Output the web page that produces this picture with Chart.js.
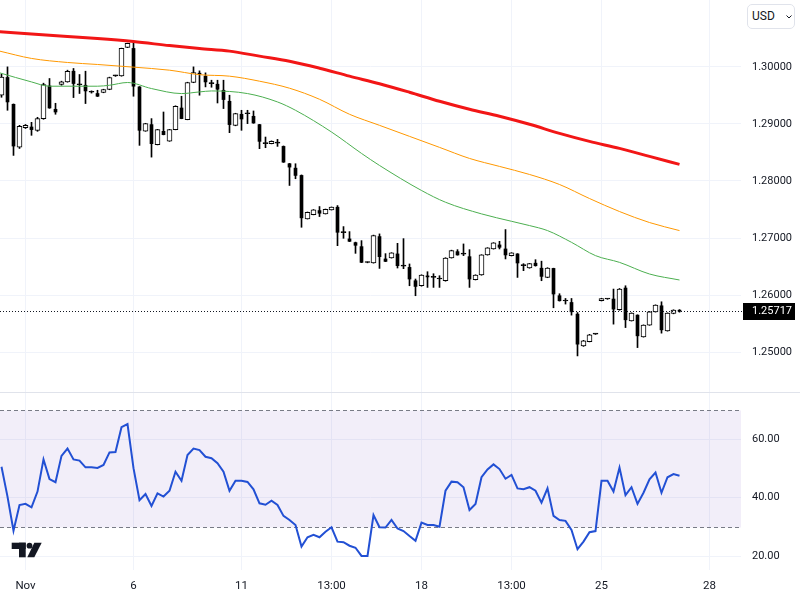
<!DOCTYPE html>
<html>
<head>
<meta charset="utf-8">
<script src="https://cdn.jsdelivr.net/npm/chart.js@4.4.1/dist/chart.umd.min.js"></script>
<style>
  html, body { margin: 0; padding: 0; background: #fff; }
  #wrap { position: relative; width: 800px; height: 600px; overflow: hidden; font-family: Roboto, sans-serif; }
  #price { position: absolute; left: 0; top: 0; }
  #rsi { position: absolute; left: 0; top: 393px; }
  #usd { position: absolute; left: 747px; top: 4px; width: 48px; height: 25px; box-sizing: border-box; background: #fff;
         border: 1px solid #e0e3eb; border-radius: 5px; font-size: 12px; line-height: 23px; color: #131722; padding-left: 4px; }
  #usd svg { position: absolute; left: 38px; top: 10px; }
</style>
</head>
<body>
<div id="wrap">
  <canvas id="price" width="800" height="393"></canvas>
  <canvas id="rsi" width="800" height="207"></canvas>
  <div id="usd">USD<svg width="6" height="4" viewBox="0 0 6 4"><polyline points="0.5,0.5 3,3 5.5,0.5" fill="none" stroke="#131722" stroke-width="1"/></svg></div>
</div>
<script>
// 4h candles, index 0 = first visible candle
const openV = [1.29503,1.29814,1.29344,1.28594,1.28935,1.28946,1.28888,1.29093,1.29666,1.29257,
  1.29691,1.29736,1.29924,1.29696,1.29678,1.29564,1.29533,1.29550,1.29603,1.29842,
  1.29842,1.30341,1.30323,1.29649,1.28875,1.28988,1.28636,1.28870,1.28699,1.28900,
  1.29279,1.29076,1.29726,1.29889,1.29837,1.29714,1.29696,1.29590,1.29397,1.28975,
  1.29169,1.29181,1.29134,1.28988,1.28654,1.28654,1.28664,1.28606,1.28302,1.28225,
  1.28097,1.27336,1.27411,1.27481,1.27424,1.27494,1.27540,1.27104,1.26984,1.26919,
  1.26849,1.26570,1.26562,1.27025,1.26633,1.26650,1.26721,1.26506,1.26485,1.26251,
  1.26163,1.26336,1.26309,1.26281,1.26251,1.26650,1.26761,1.26717,1.26673,1.26269,
  1.26351,1.26703,1.26808,1.26879,1.26808,1.26691,1.26721,1.26524,1.26474,1.26559,
  1.26471,1.26309,1.26467,1.25988,1.25900,1.25870,1.25666,1.25109,1.25184,1.25315,
  1.25900,1.25930,1.25930,1.25742,1.26123,1.25548,1.25648,1.25267,1.25473,1.25706,
  1.25812,1.25372,1.25677,1.25730];
const highV = [1.29872,1.30000,1.29350,1.28975,1.28990,1.29028,1.29116,1.29714,1.29796,1.29362,
  1.29749,1.29942,1.29972,1.29866,1.29924,1.29580,1.29590,1.29608,1.29820,1.29854,
  1.30329,1.30416,1.30439,1.29655,1.29011,1.29093,1.28905,1.29209,1.28905,1.29318,
  1.29485,1.29731,1.30000,1.29930,1.29895,1.29766,1.29766,1.29766,1.29503,1.29187,
  1.29239,1.29239,1.29227,1.28993,1.28770,1.28703,1.28729,1.28614,1.28308,1.28302,
  1.28106,1.27456,1.27499,1.27552,1.27508,1.27544,1.27569,1.27200,1.27112,1.26928,
  1.26954,1.26582,1.27051,1.27072,1.26726,1.26743,1.26907,1.26989,1.26545,1.26281,
  1.26356,1.26409,1.26374,1.26339,1.26655,1.26787,1.26796,1.26896,1.26796,1.26356,
  1.26708,1.26831,1.26919,1.26942,1.27148,1.26743,1.26726,1.26550,1.26555,1.26620,
  1.26594,1.26480,1.26471,1.26023,1.25940,1.25940,1.25694,1.25206,1.25311,1.25320,
  1.25944,1.25938,1.26105,1.26115,1.26163,1.25689,1.25654,1.25478,1.25712,1.25829,
  1.25882,1.25689,1.25742,1.25745];
const lowV = [1.29467,1.29239,1.28448,1.28570,1.28920,1.28800,1.28870,1.29081,1.29274,1.29169,
  1.29678,1.29731,1.29462,1.29533,1.29357,1.29540,1.29480,1.29546,1.29599,1.29833,
  1.29836,1.30337,1.29485,1.28624,1.28870,1.28418,1.28632,1.28808,1.28694,1.28896,
  1.29090,1.29072,1.29722,1.29503,1.29649,1.29643,1.29367,1.29269,1.28847,1.28967,
  1.28888,1.29005,1.29011,1.28566,1.28583,1.28650,1.28606,1.28325,1.27921,1.28039,
  1.27188,1.27332,1.27406,1.27376,1.27420,1.27490,1.26866,1.26995,1.26937,1.26731,
  1.26568,1.26565,1.26559,1.26467,1.26586,1.26647,1.26474,1.26462,1.26163,1.25988,
  1.26155,1.26134,1.26134,1.26134,1.26243,1.26647,1.26699,1.26691,1.26134,1.26264,
  1.26347,1.26699,1.26805,1.26808,1.26633,1.26685,1.26309,1.26427,1.26470,1.26506,
  1.26251,1.26304,1.25777,1.25894,1.25842,1.25648,1.24933,1.25100,1.25179,1.25310,
  1.25896,1.25925,1.25490,1.25733,1.25430,1.25544,1.25079,1.25262,1.25469,1.25701,
  1.25332,1.25367,1.25671,1.25700];
const closeV = [1.29819,1.29385,1.28612,1.28958,1.28975,1.28900,1.29093,1.29691,1.29279,1.29209,
  1.29736,1.29924,1.29708,1.29687,1.29578,1.29555,1.29485,1.29603,1.29814,1.29845,
  1.30323,1.30411,1.29661,1.28888,1.29005,1.28654,1.28900,1.28812,1.28900,1.29309,
  1.29093,1.29726,1.29902,1.29872,1.29736,1.29705,1.29608,1.29427,1.28988,1.29181,
  1.29086,1.29178,1.29016,1.28694,1.28659,1.28694,1.28668,1.28330,1.28243,1.28097,
  1.27353,1.27452,1.27494,1.27434,1.27504,1.27540,1.27100,1.27095,1.26942,1.26872,
  1.26573,1.26577,1.27042,1.26673,1.26590,1.26738,1.26515,1.26515,1.26281,1.26151,
  1.26351,1.26318,1.26314,1.26286,1.26650,1.26778,1.26703,1.26720,1.26281,1.26351,
  1.26703,1.26826,1.26914,1.26837,1.26703,1.26738,1.26562,1.26515,1.26550,1.26515,
  1.26327,1.26474,1.26018,1.25900,1.25895,1.25706,1.25139,1.25197,1.25302,1.25318,
  1.25940,1.25933,1.25754,1.26105,1.25566,1.25684,1.25285,1.25473,1.25706,1.25824,
  1.25390,1.25684,1.25736,1.25717];

// moving averages, read at selected candles
const maIdx = [-0.3,5,11,16,22,28,33,38,43,48,53,58,63,68,73,78,83,88,93,98,103,108,113];
const ma200 = [1.30615,1.30575,1.30531,1.30496,1.30443,1.30373,1.30320,1.30276,1.30188,1.30100,1.29977,
  1.29837,1.29705,1.29555,1.29397,1.29257,1.29134,1.28993,1.28835,1.28694,1.28571,1.28431,1.28290];
const ma100 = [1.30276,1.30148,1.30077,1.30042,1.29995,1.29942,1.29863,1.29837,1.29749,1.29626,1.29432,
  1.29169,1.28975,1.28782,1.28589,1.28395,1.28255,1.28114,1.27938,1.27692,1.27464,1.27271,1.27130];
const ma50Idx = [-0.3,5,8,16,18,21,25,30,33,35,41,46,49,55,60,63,70,74,80,85,88,91,95,99,103,108,113];
const ma50 = [1.29895,1.29736,1.29661,1.29661,1.29678,1.29726,1.29620,1.29532,1.29561,1.29578,1.29532,
  1.29385,1.29239,1.28858,1.28483,1.28272,1.27833,1.27627,1.27423,1.27293,1.27218,1.27130,1.26924,
  1.26691,1.26573,1.26369,1.26264];

const rsiV = [50.6,40.4,28.7,37.5,37.9,36.7,42.1,53.1,46.4,45.3,
  54.3,56.8,53.1,52.7,50.4,50.4,50.2,51.2,55.5,55.6,
  64.1,65.2,50.1,39.2,41.3,37.2,41.5,40.4,42.4,48.9,
  45.8,54.6,56.8,56.3,54.0,53.5,51.8,48.9,42.4,45.8,
  45.8,45.4,42.9,38.1,37.6,39.0,37.5,33.8,32.4,30.7,
  23.3,26.5,27.3,26.5,28.4,29.9,25.0,24.8,23.6,22.9,
  20.1,20.1,34.1,29.9,29.8,32.4,29.5,28.6,26.9,25.3,
  31.5,30.7,30.7,30.1,42.4,45.5,45.3,43.6,35.8,37.9,
  47.0,49.7,51.4,49.8,46.5,47.8,43.2,42.9,43.6,42.4,
  38.3,43.2,33.8,32.4,32.1,29.0,22.4,25.0,28.2,28.6,
  45.8,45.8,42.1,50.3,40.9,43.6,37.9,41.7,46.3,48.6,
  41.7,47.0,48.1,47.5];

const xTicks = [4, 22, 40, 55, 70, 85, 100, 118];
const xTickLabels = ['Nov', '6', '11', '13:00', '18', '13:00', '25', '28'];
const priceTicks = [1.25, 1.26, 1.27, 1.28, 1.29, 1.30];
const rsiTicks = [20, 40, 60];
const lastPrice = 1.25717;

const TXT = '#131722';
const GRID = '#f0f3fa';
Chart.defaults.font.family = 'Roboto';
Chart.defaults.color = TXT;

const idx = closeV.map((_, i) => i);
const isDown = i => closeV[i] - openV[i] <= -0.0001;
const upBodies = idx.filter(i => !isDown(i)).map(i => ({ x: i, y: [openV[i], closeV[i]] }));
const downBodies = idx.filter(isDown).map(i => ({ x: i, y: [openV[i], closeV[i]] }));
const wicks = idx.map(i => ({ x: i, y: [lowV[i], highV[i]] }));
const pts = (xs, ys) => xs.map((x, k) => ({ x: x, y: ys[k] }));

const noPad = s => { s.paddingTop = 0; s.paddingBottom = 0; s.paddingLeft = 0; s.paddingRight = 0; };

const xScale = (showLabels) => ({
  type: 'linear', min: -0.25, max: 123.25, offset: false,
  afterBuildTicks: s => { s.ticks = xTicks.map(v => ({ value: v })); },
  grid: { color: GRID, drawTicks: false, offset: false },
  border: { display: false },
  ticks: {
    display: showLabels, autoSkip: false, maxRotation: 0, padding: 9,
    font: { size: 11.5 },
    callback: v => xTickLabels[xTicks.indexOf(v)]
  },
  afterFit: s => { s.height = showLabels ? 30 : 0; noPad(s); }
});

const yScale = (min, max, ticks, digits) => ({
  type: 'linear', position: 'right', min: min, max: max,
  afterBuildTicks: s => { s.ticks = ticks.map(v => ({ value: v })); },
  grid: { color: GRID, drawTicks: false },
  border: { display: false },
  ticks: { padding: 11, font: { size: 11 }, callback: v => v.toFixed(digits) },
  afterFit: s => { s.width = 59; noPad(s); }
});

const priceDecor = {
  id: 'priceDecor',
  afterDraw(chart) {
    const { ctx, chartArea: a, scales: { y } } = chart;
    const py = Math.round(y.getPixelForValue(lastPrice)) + 0.5;
    ctx.save();
    ctx.strokeStyle = TXT; ctx.lineWidth = 1; ctx.setLineDash([1, 2]);
    ctx.beginPath(); ctx.moveTo(a.left, py); ctx.lineTo(a.right + 2, py); ctx.stroke();
    ctx.setLineDash([]);
    ctx.fillStyle = '#000';
    ctx.fillRect(a.right + 2, py - 8.5, 52, 17);
    ctx.fillStyle = '#fff'; ctx.font = '11px Roboto';
    ctx.textAlign = 'left'; ctx.textBaseline = 'middle';
    ctx.fillText(lastPrice.toFixed(5), a.right + 11, py);
    ctx.strokeStyle = '#e0e3eb';
    ctx.beginPath(); ctx.moveTo(0, chart.height - 0.5); ctx.lineTo(chart.width, chart.height - 0.5); ctx.stroke();
    ctx.restore();
  }
};

new Chart(document.getElementById('price'), {
  type: 'line',
  data: {
    datasets: [
      { type: 'line', data: pts(maIdx, ma200), borderColor: '#f21616', borderWidth: 3, pointRadius: 0, cubicInterpolationMode: 'monotone', order: 1 },
      { type: 'line', data: pts(maIdx, ma100), borderColor: '#ff9800', borderWidth: 1, pointRadius: 0, cubicInterpolationMode: 'monotone', order: 2 },
      { type: 'line', data: pts(ma50Idx, ma50), borderColor: '#4caf50', borderWidth: 1, pointRadius: 0, cubicInterpolationMode: 'monotone', order: 3 },
      { type: 'bar', data: upBodies, barThickness: 5, grouped: false, minBarLength: 1, borderSkipped: false,
        borderWidth: 1, borderColor: '#000',
        backgroundColor: c => { const i = c.raw ? c.raw.x : 0; return closeV[i] - openV[i] > 0.00015 ? '#fff' : '#000'; },
        order: 4 },
      { type: 'bar', data: downBodies, barThickness: 3, grouped: false, minBarLength: 1, borderSkipped: false,
        borderWidth: 0, backgroundColor: '#000', order: 5 },
      { type: 'bar', data: wicks, barThickness: 1, grouped: false, borderWidth: 0, backgroundColor: '#000', order: 6 }
    ]
  },
  options: {
    responsive: false, animation: false,
    layout: { padding: 0 },
    plugins: { legend: { display: false }, tooltip: { enabled: false } },
    scales: {
      x: xScale(false),
      y: yScale(1.2428295, 1.3117223, priceTicks, 5)
    }
  },
  plugins: [priceDecor]
});

const rsiDecor = {
  id: 'rsiDecor',
  beforeDatasetsDraw(chart) {
    const { ctx, chartArea: a, scales: { y } } = chart;
    const y70 = Math.round(y.getPixelForValue(70)) + 0.5;
    const y30 = Math.round(y.getPixelForValue(30)) + 0.5;
    ctx.save();
    ctx.fillStyle = 'rgba(126,87,194,0.1)';
    ctx.fillRect(a.left, y70, a.right - a.left, y30 - y70);
    ctx.strokeStyle = '#787b86'; ctx.lineWidth = 1; ctx.setLineDash([4, 3]);
    [y70, y30].forEach(py => { ctx.beginPath(); ctx.moveTo(a.left, py); ctx.lineTo(a.right, py); ctx.stroke(); });
    ctx.restore();
  },
  afterDraw(chart) {
    const ctx = chart.ctx;
    ctx.save();
    ctx.fillStyle = TXT;
    ctx.fillRect(11.7, 149.7, 14, 6.3);
    ctx.fillRect(19, 149.7, 6.7, 14.6);
    ctx.beginPath(); ctx.arc(29.5, 152.7, 2.9, 0, Math.PI * 2); ctx.fill();
    ctx.beginPath();
    ctx.moveTo(34.3, 149.7); ctx.lineTo(41.7, 149.7); ctx.lineTo(34.3, 164.3); ctx.lineTo(27.3, 164.3);
    ctx.closePath(); ctx.fill();
    ctx.restore();
  }
};

new Chart(document.getElementById('rsi'), {
  type: 'line',
  data: {
    datasets: [{
      data: rsiV.map((v, i) => ({ x: i, y: v })),
      borderColor: '#2250d4', borderWidth: 2, pointRadius: 0, tension: 0
    }]
  },
  options: {
    responsive: false, animation: false,
    layout: { padding: 0 },
    plugins: { legend: { display: false }, tooltip: { enabled: false } },
    scales: {
      x: xScale(true),
      y: yScale(15.3, 75.8, rsiTicks, 2)
    }
  },
  plugins: [rsiDecor]
});
</script>
</body>
</html>
